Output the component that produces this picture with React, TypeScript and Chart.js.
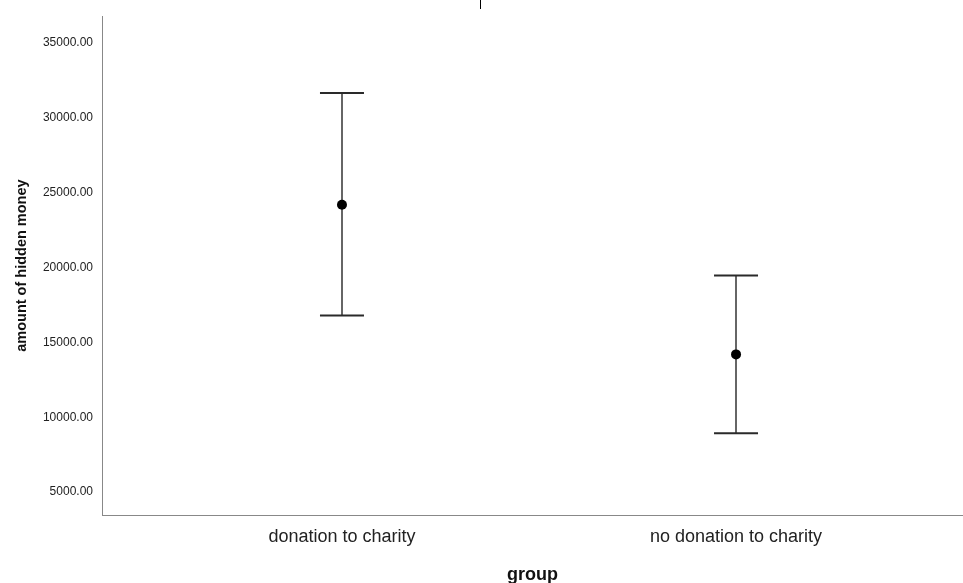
import React, { useEffect, useRef } from "react";
import { Chart, registerables } from "chart.js";

Chart.register(...registerables);

const CATEGORIES = ["donation to charity", "no donation to charity"];
const MEANS = [24200, 14200];
const UPPER = [31667, 19467];
const LOWER = [16800, 8933];
const Y_TICKS = [5000, 10000, 15000, 20000, 25000, 30000, 35000];

const errorBarPlugin = {
  id: "errorBars",
  beforeDatasetsDraw(chart: any) {
    const { ctx, scales } = chart;
    const xs = scales.x;
    const ys = scales.y;
    ctx.save();
    for (let i = 0; i < MEANS.length; i++) {
      const x = xs.getPixelForValue(i);
      const yTop = ys.getPixelForValue(UPPER[i]);
      const yBot = ys.getPixelForValue(LOWER[i]);
      ctx.strokeStyle = "#666666";
      ctx.lineWidth = 2;
      ctx.beginPath();
      ctx.moveTo(x, yTop);
      ctx.lineTo(x, yBot);
      ctx.stroke();
      ctx.strokeStyle = "#2a2a2a";
      ctx.lineWidth = 2;
      ctx.beginPath();
      ctx.moveTo(x - 22, yTop);
      ctx.lineTo(x + 22, yTop);
      ctx.moveTo(x - 22, yBot);
      ctx.lineTo(x + 22, yBot);
      ctx.stroke();
    }
    ctx.restore();
  },
  afterDraw(chart: any) {
    const { ctx } = chart;
    ctx.save();
    ctx.strokeStyle = "#000";
    ctx.lineWidth = 1;
    ctx.beginPath();
    ctx.moveTo(480.5, 0);
    ctx.lineTo(480.5, 9);
    ctx.stroke();
    ctx.restore();
  },
};

export default function App() {
  const ref = useRef<HTMLCanvasElement>(null);
  useEffect(() => {
    if (!ref.current) return;
    const chart = new Chart(ref.current, {
      type: "scatter",
      data: {
        datasets: [
          {
            data: MEANS.map((y, i) => ({ x: i, y })),
            pointRadius: 5,
            pointBackgroundColor: "#000",
            pointBorderColor: "#000",
            pointBorderWidth: 0,
            clip: false,
          },
        ],
      },
      options: {
        animation: false,
        responsive: false,
        layout: { autoPadding: false, padding: { left: 0, right: 0, top: 16, bottom: 0 } },
        plugins: { legend: { display: false }, tooltip: { enabled: false } },
        scales: {
          x: {
            type: "linear",
            min: -0.609,
            max: 1.576,
            afterBuildTicks: (axis: any) => {
              axis.ticks = CATEGORIES.map((_, i) => ({ value: i }));
            },
            afterFit: (scale: any) => {
              scale.height = 68;
            },
            grid: { display: false, drawTicks: false },
            border: { display: true, color: "#888888", width: 1 },
            ticks: {
              padding: 11,
              color: "#222",
              font: { family: "Liberation Sans, Arial", size: 18 },
              callback: (v: any) => CATEGORIES[v] ?? "",
              maxRotation: 0,
              autoSkip: false,
            },
            title: {
              display: true,
              text: "group",
              color: "#111",
              padding: { top: -3, bottom: -3 },
              font: { family: "Liberation Sans, Arial", size: 18, weight: "bold" },
            },
          },
          y: {
            min: 3467,
            max: 36800,
            afterBuildTicks: (axis: any) => {
              axis.ticks = Y_TICKS.map((v) => ({ value: v }));
            },
            afterFit: (scale: any) => {
              scale.width = 102;
            },
            grid: { display: false, drawTicks: false },
            border: { display: true, color: "#888888", width: 1 },
            ticks: {
              padding: 9,
              color: "#222",
              font: { family: "Liberation Sans, Arial", size: 12 },
              callback: (v: any) => Number(v).toFixed(2),
            },
            title: {
              display: true,
              text: "amount of hidden money",
              color: "#111",
              padding: { top: 13, bottom: 0 },
              font: { family: "Liberation Sans, Arial", size: 14.5, weight: "bold" },
            },
          },
        },
      },
      plugins: [errorBarPlugin],
    });
    return () => chart.destroy();
  }, []);
  return (
    <div style={{ position: "fixed", left: 0, top: 0, width: 963, height: 583, background: "#fff" }}>
      <canvas ref={ref} width={963} height={583} style={{ display: "block" }} />
    </div>
  );
}
